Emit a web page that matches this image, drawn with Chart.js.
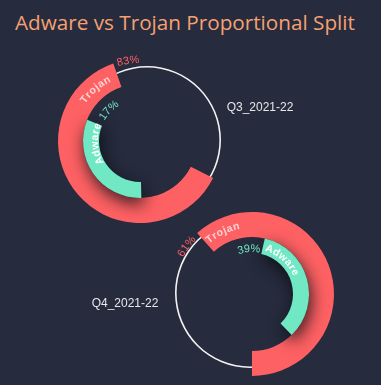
<!DOCTYPE html>
<html>
<head>
<meta charset="utf-8">
<script src="https://cdn.jsdelivr.net/npm/chart.js@4/dist/chart.umd.min.js"></script>
<style>
  html, body { margin: 0; padding: 0; }
  body { width: 381px; height: 385px; background: #262b3d; position: relative; overflow: hidden; }
  #title {
    position: absolute; left: 15px; top: 12px;
    font: 20.7px/21px "Open Sans", sans-serif; color: #f6a173; white-space: nowrap;
  }
  canvas { position: absolute; left: 0; top: 0; }
</style>
</head>
<body>
<div id="title">Adware vs Trojan Proportional Split</div>
<canvas id="track1" width="381" height="385"></canvas>
<canvas id="track2" width="381" height="385"></canvas>
<canvas id="ring1" width="381" height="385"></canvas>
<canvas id="ring2" width="381" height="385"></canvas>
<script>
// data
const quarters = ['Q3_2021-22', 'Q4_2021-22'];
const seriesNames = ['Trojan', 'Adware'];
const trojanPct = [83, 61];
const adwarePct = [17, 39];

const RED = '#fe6163';
const TEAL = '#6fe8c3';
const CLEAR = 'rgba(0,0,0,0)';

// per-quarter look: ring centre, sweeps, where the labels sit
const layouts = [
  {
    cx: 140, cy: 141, reversed: true,
    red: { rot: 71, sweep: 270 }, teal: { rot: -375, sweep: 667 },
    track: { cx: 147, cy: 140, r: 74 },
    nameOff: [22, 26], nameR: [69, 45],
    pctOff: [10.5, 22.5], pctR: [81, 44],
    cat: { dx: 120, dy: -33 }
  },
  {
    cx: 252, cy: 294, reversed: false,
    red: { rot: -42, sweep: 364 }, teal: { rot: 13, sweep: 315 },
    track: { cx: 250, cy: 293, r: 75 },
    nameOff: [16.5, 28.5], nameR: [69, 48],
    pctOff: [12, 17], pctR: [81, 45],
    cat: { dx: -127, dy: 10 }
  }
];

const W = 381, H = 385, R = 82;

function pad(cx, cy, r) {
  return { left: cx - r, top: cy - r, right: W - cx - r, bottom: H - cy - r };
}

// write text along a circle, reading clockwise, tops outward
function arcText(ctx, text, cx, cy, r, mid, spacing) {
  const chars = [...text];
  const widths = chars.map(ch => ctx.measureText(ch).width);
  const total = widths.reduce((a, b) => a + b, 0) + spacing * (chars.length - 1);
  let a = mid - total / 2 / r;
  chars.forEach((ch, i) => {
    const m = a + widths[i] / 2 / r;
    ctx.save();
    ctx.translate(cx + r * Math.cos(m), cy + r * Math.sin(m));
    ctx.rotate(m + Math.PI / 2);
    ctx.fillText(ch, 0, 0);
    ctx.restore();
    a += (widths[i] + spacing) / r;
  });
}

const shadowPlugin = {
  id: 'tealShadow',
  beforeDatasetDraw(chart, args) {
    if (args.index !== 1) return;
    const c = chart.ctx;
    c.save();
    c.shadowColor = 'rgba(8,10,18,0.85)';
    c.shadowBlur = 16;
    c.shadowOffsetX = 2;
    c.shadowOffsetY = 6;
  },
  afterDatasetDraw(chart, args) {
    if (args.index === 1) chart.ctx.restore();
  }
};

const labelPlugin = {
  id: 'ringLabels',
  afterDatasetsDraw(chart, args, opts) {
    const L = layouts[opts.q];
    const ctx = chart.ctx;
    const vi = L.reversed ? 1 : 0;
    const dir = L.reversed ? -1 : 1;
    const deg = Math.PI / 180;
    const pcts = [trojanPct[opts.q], adwarePct[opts.q]];
    const nameStyle = [['rgba(255,255,255,0.72)', 0.8], ['#ffffff', 0.8]];
    const pctColor = [RED, TEAL];
    ctx.save();
    ctx.textAlign = 'center';
    ctx.textBaseline = 'middle';
    [0, 1].forEach(d => {
      const arc = chart.getDatasetMeta(d).data[vi];
      const p = arc.getProps(['x', 'y', 'startAngle', 'endAngle'], true);
      const anchor = L.reversed ? p.endAngle : p.startAngle;
      ctx.font = 'bold 10.5px "Liberation Sans", Arial, sans-serif';
      ctx.fillStyle = nameStyle[d][0];
      arcText(ctx, seriesNames[d], p.x, p.y, L.nameR[d], anchor + dir * L.nameOff[d] * deg, nameStyle[d][1]);
      ctx.font = '500 11px "Liberation Sans", Arial, sans-serif';
      ctx.fillStyle = pctColor[d];
      arcText(ctx, pcts[d] + '%', p.x, p.y, L.pctR[d], anchor - dir * L.pctOff[d] * deg, 0.4);
      if (d === 0) {
        ctx.font = '12px "Liberation Sans", Arial, sans-serif';
        ctx.fillStyle = '#e8e8e8';
        ctx.fillText(quarters[opts.q], p.x + L.cat.dx, p.y + L.cat.dy);
      }
    });
    ctx.restore();
  }
};

function trackChart(id, q) {
  const t = layouts[q].track;
  new Chart(document.getElementById(id), {
    type: 'doughnut',
    data: { labels: [quarters[q]], datasets: [{ data: [100], backgroundColor: '#f2f2f2', borderWidth: 0 }] },
    options: {
      responsive: false, animation: false, events: [],
      cutout: t.r - 1.6,
      layout: { padding: pad(t.cx, t.cy, t.r) },
      plugins: { legend: { display: false }, tooltip: { enabled: false } }
    }
  });
}

function ringChart(id, q) {
  const L = layouts[q];
  const slices = v => L.reversed ? [100 - v, v] : [v, 100 - v];
  const fills = c => L.reversed ? [CLEAR, c] : [c, CLEAR];
  new Chart(document.getElementById(id), {
    type: 'doughnut',
    data: {
      labels: ['a', 'b'],
      datasets: [
        { label: seriesNames[0], data: slices(trojanPct[q]), backgroundColor: fills(RED),
          borderWidth: 0, weight: 25, rotation: L.red.rot, circumference: L.red.sweep },
        { label: seriesNames[1], data: slices(adwarePct[q]), backgroundColor: fills(TEAL),
          borderWidth: 0, weight: 16, rotation: L.teal.rot, circumference: L.teal.sweep, order: -1 }
      ]
    },
    options: {
      responsive: false, animation: false, events: [],
      cutout: 41,
      layout: { padding: pad(L.cx, L.cy, R) },
      plugins: { legend: { display: false }, tooltip: { enabled: false }, ringLabels: { q } }
    },
    plugins: [shadowPlugin, labelPlugin]
  });
}

trackChart('track1', 0);
trackChart('track2', 1);
ringChart('ring1', 0);
ringChart('ring2', 1);
</script>
</body>
</html>
